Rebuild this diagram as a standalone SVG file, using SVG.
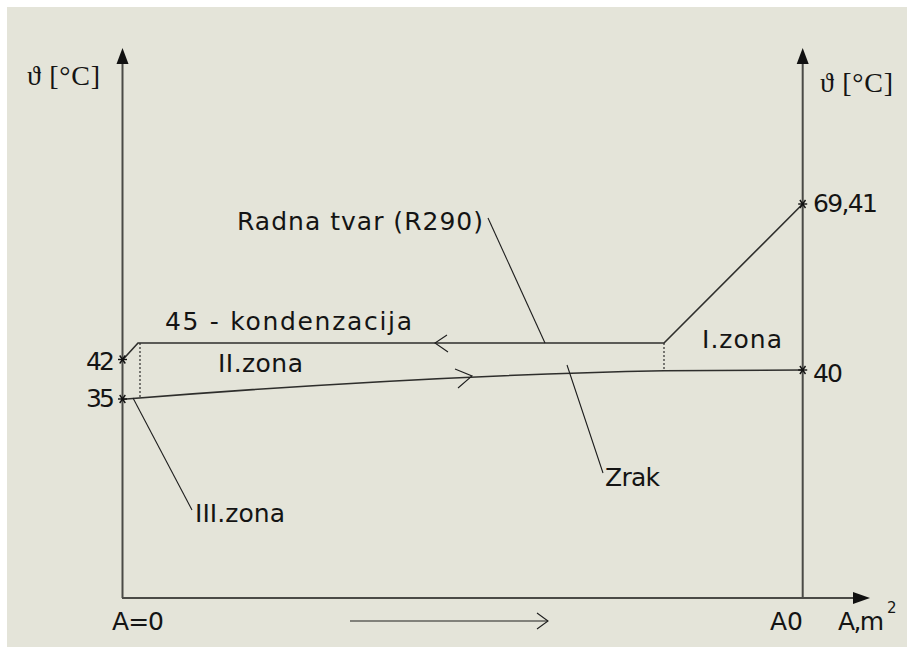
<svg xmlns="http://www.w3.org/2000/svg" xmlns:xlink="http://www.w3.org/1999/xlink" width="914" height="654" viewBox="0 0 914 654">
<style>
.axis{stroke:#4a4a46;stroke-width:2;fill:none}
.ln{stroke:#2e2e2c;stroke-width:1.6;fill:none}
.thin{stroke:#1e1e1e;stroke-width:1.1;fill:none}
.dot{stroke:#2e2e2c;stroke-width:1.2;stroke-dasharray:2,2;fill:none}
.t{font-family:"DejaVu Sans","Liberation Sans",sans-serif;font-size:25px;fill:#141414}
.th{font-family:"Liberation Serif","DejaVu Serif",serif;font-size:28px;fill:#141414}
.head{fill:#111;stroke:none}
</style>
<defs>
<g id="star" stroke="#111" stroke-width="1.4">
<line x1="-4.5" y1="0" x2="4.5" y2="0"/>
<line x1="-2.8" y1="-4" x2="2.8" y2="4"/>
<line x1="-2.8" y1="4" x2="2.8" y2="-4"/>
</g>
</defs>
<rect x="0" y="0" width="914" height="654" fill="#ffffff"/>
<rect x="7" y="7" width="900" height="640" fill="#e4e4d9"/>

<g id="axes">
<line class="axis" x1="122.5" y1="60" x2="122.5" y2="598"/>
<polygon class="head" points="122.5,48 116.5,64 128.5,64"/>
<line class="axis" x1="802.7" y1="60" x2="802.7" y2="598"/>
<polygon class="head" points="802.7,48 796.7,64 808.7,64"/>
<line class="axis" x1="122" y1="598" x2="858" y2="598"/>
<polygon class="head" points="870,598 853,592 853,604"/>
</g>

<g id="connectors">
<polyline class="ln" points="122.5,360 138,343 664,343 802.7,204"/>
<path class="ln" d="M123,399.3 Q419,375.6 664,370.7 L802.7,370"/>
<line class="dot" x1="140" y1="343" x2="140" y2="398"/>
<line class="dot" x1="664" y1="343" x2="664" y2="371"/>
<polyline class="thin" points="447,335 435,343 448,352"/>
<polyline class="thin" points="455,369 472,376 458,388"/>
<line class="thin" x1="488" y1="218" x2="545" y2="343"/>
<line class="thin" x1="567" y1="365" x2="603" y2="473"/>
<line class="thin" x1="133" y1="398" x2="192" y2="510"/>
<line class="thin" x1="350" y1="621" x2="548" y2="621"/>
<polyline class="thin" points="537,613 548,621 537,629"/>
</g>

<g id="point-42"><use xlink:href="#star" x="122.5" y="359.5"/><text class="t" x="86" y="370" textLength="29">42</text></g>
<g id="point-35"><use xlink:href="#star" x="122.5" y="399"/><text class="t" x="86" y="407" textLength="29">35</text></g>
<g id="point-6941"><use xlink:href="#star" x="802.7" y="204"/><text class="t" x="813" y="212" textLength="65">69,41</text></g>
<g id="point-40"><use xlink:href="#star" x="802.7" y="370"/><text class="t" x="813" y="382" textLength="30">40</text></g>

<g id="label-theta-left"><text class="th" x="27" y="85" textLength="73">ϑ [°C]</text></g>
<g id="label-theta-right"><text class="th" x="820" y="92" textLength="73">ϑ [°C]</text></g>
<g id="label-radna"><text class="t" x="237" y="230" textLength="246">Radna tvar (R290)</text></g>
<g id="label-kond"><text class="t" x="165" y="330" textLength="247">45 - kondenzacija</text></g>
<g id="label-zona2"><text class="t" x="218" y="372" textLength="85">II.zona</text></g>
<g id="label-zona1"><text class="t" x="702" y="348" textLength="80">I.zona</text></g>
<g id="label-zona3"><text class="t" x="195" y="522" textLength="90">III.zona</text></g>
<g id="label-zrak"><text class="t" x="605" y="486" textLength="55">Zrak</text></g>
<g id="label-a0"><text class="t" x="112" y="630" textLength="52">A=0</text></g>
<g id="label-A0"><text class="t" x="770" y="630" textLength="33">A0</text></g>
<g id="label-am2"><text class="t" x="838" y="630" textLength="46">A,m</text><text class="t" x="887" y="613" style="font-size:15px">2</text></g>
</svg>
